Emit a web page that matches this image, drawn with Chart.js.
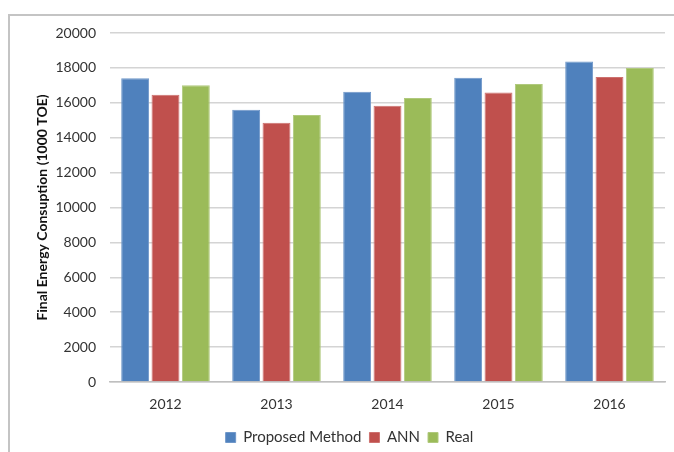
<!DOCTYPE html>
<html lang="en">

<head>
    <meta charset="UTF-8">
    <title>Final Energy Consumption</title>
    <style>
        body {
            margin: 0;
            background-color: #ffffff;
            overflow: hidden;
        }

        .frame {
            position: absolute;
            left: 8px;
            top: 14px;
            width: 700px;
            height: 500px;
            border-left: 2px solid #c4c4c4;
            border-top: 2px solid #c4c4c4;
        }

        #barChart {
            position: absolute;
            left: 0;
            top: 0;
        }
    </style>
</head>

<body>
    <div class="frame"></div>
    <canvas id="barChart" width="674" height="452"></canvas>

    <script src="https://cdn.jsdelivr.net/npm/chart.js"></script>
    <script>
        // values
        const years = ['2012', '2013', '2014', '2015', '2016'];
        const proposedMethod = [17400, 15600, 16630, 17430, 18360];
        const ann = [16460, 14850, 15830, 16590, 17480];
        const real = [17000, 15300, 16270, 17080, 18000];

        const ctx = document.getElementById('barChart').getContext('2d');

        new Chart(ctx, {
            type: 'bar',
            data: {
                labels: years,
                datasets: [
                    { label: 'Proposed Method', data: proposedMethod, backgroundColor: '#4f81bd', borderColor: '#6f97c9', borderWidth: 1 },
                    { label: 'ANN', data: ann, backgroundColor: '#c0504d', borderColor: '#cd716f', borderWidth: 1 },
                    { label: 'Real', data: real, backgroundColor: '#9bbb59', borderColor: '#b0c97d', borderWidth: 1 }
                ]
            },
            options: {
                responsive: false,
                animation: false,
                categoryPercentage: 0.82,
                barPercentage: 0.92,
                layout: {
                    padding: { left: 34, right: 9, top: 33, bottom: -3 }
                },
                plugins: {
                    tooltip: { enabled: false },
                    legend: {
                        position: 'bottom',
                        labels: {
                            boxWidth: 10,
                            boxHeight: 10,
                            padding: 8,
                            color: '#333',
                            font: { family: 'Lato', size: 15 }
                        }
                    }
                },
                scales: {
                    x: {
                        grid: { display: false, drawTicks: false },
                        border: { color: '#bfbfbf', width: 1.5 },
                        ticks: { color: '#333', padding: 14, font: { family: 'Lato', size: 14 } },
                        afterFit: (scale) => { scale.height = 40; }
                    },
                    y: {
                        min: 0,
                        max: 20000,
                        grid: { color: '#d4d4d4', lineWidth: 1.5, drawTicks: false },
                        border: { display: false },
                        ticks: {
                            stepSize: 2000,
                            color: '#333',
                            padding: 14,
                            font: { family: 'Lato', size: 14 },
                            callback: (value) => String(value)
                        },
                        title: {
                            display: true,
                            text: 'Final Energy Consuption (1000 TOE)',
                            color: '#111',
                            padding: 0,
                            font: { family: 'Lato', size: 14, weight: 'bold' }
                        },
                        afterFit: (scale) => { scale.width = 76; }
                    }
                }
            }
        });
    </script>

</body>

</html>
